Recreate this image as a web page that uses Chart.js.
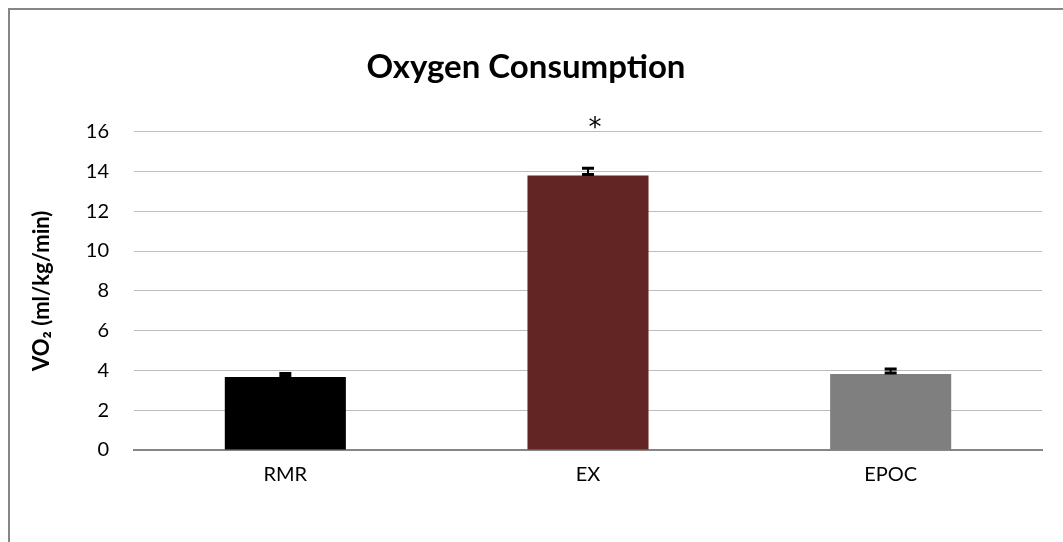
<!DOCTYPE html>
<html>
<head>
<meta charset="utf-8">
<script src="https://cdn.jsdelivr.net/npm/chart.js@4.4.1/dist/chart.umd.min.js"></script>
<style>
  html, body { margin: 0; padding: 0; background: #fff; overflow: hidden; }
  #frame {
    position: absolute; left: 8px; top: 8px;
    width: 1053px; height: 532px;
    border-left: 2px solid #868686; border-top: 2px solid #868686;
  }
  #chart { display: block; }
</style>
</head>
<body>
<div id="frame"><canvas id="chart" width="1053" height="532"></canvas></div>
<script>
// dados
const categories = ['RMR', 'EX', 'EPOC'];
const vo2Mean = [3.67, 13.79, 3.82];
const vo2Err = [0.18, 0.37, 0.25];
const significance = ['', '*', ''];
const barColors = ['#000000', '#632523', '#7f7f7f'];
const yTicks = [0, 2, 4, 6, 8, 10, 12, 14, 16];

const FONT = "Lato, 'Open Sans', sans-serif";

// barras de erro (só para cima) e asterisco de significância
const errorBars = {
    id: 'errorBars',
    afterDatasetsDraw(chart) {
        const { ctx, scales: { y } } = chart;
        const meta = chart.getDatasetMeta(0);
        ctx.save();
        meta.data.forEach((bar, i) => {
            const cx = bar.x;
            const yTop = y.getPixelForValue(vo2Mean[i] + vo2Err[i]);
            const yBase = y.getPixelForValue(vo2Mean[i]);
            ctx.strokeStyle = '#000';
            ctx.lineWidth = 2;
            ctx.beginPath();
            ctx.moveTo(cx, yBase); ctx.lineTo(cx, yTop);
            ctx.stroke();
            ctx.lineWidth = 3;
            ctx.beginPath();
            ctx.moveTo(cx - 6, yTop); ctx.lineTo(cx + 6, yTop);
            ctx.moveTo(cx - 6, yBase - 1); ctx.lineTo(cx + 6, yBase - 1);
            ctx.stroke();

            if (significance[i]) {
                ctx.fillStyle = '#000';
                ctx.font = "26px 'DejaVu Sans', sans-serif";
                ctx.textAlign = 'center';
                ctx.textBaseline = 'middle';
                ctx.fillText(significance[i], cx + 7, y.getPixelForValue(16.1));
            }
        });
        ctx.restore();
    }
};

new Chart(document.getElementById('chart'), {
    type: 'bar',
    data: {
        labels: categories,
        datasets: [{
            data: vo2Mean,
            backgroundColor: barColors,
            borderWidth: 0,
            barPercentage: 0.4,
            categoryPercentage: 1
        }]
    },
    options: {
        responsive: false,
        animation: false,
        layout: { padding: { left: 0, right: 21, top: 0, bottom: 0 } },
        plugins: {
            legend: { display: false },
            tooltip: { enabled: false },
            title: {
                display: true,
                text: 'Oxygen Consumption',
                color: '#000',
                font: { family: FONT, size: 33, weight: 'bold' },
                padding: { top: 38, bottom: 44 }
            }
        },
        scales: {
            x: {
                grid: { display: false, drawTicks: false },
                border: { display: true, color: '#868686', width: 2 },
                ticks: { color: '#000', font: { family: FONT, size: 20 }, padding: 13 },
                afterFit(scale) { scale.height = 92; }
            },
            y: {
                min: 0,
                max: 16,
                afterBuildTicks(scale) { scale.ticks = yTicks.map(v => ({ value: v })); },
                grid: { color: '#bdbdbd', lineWidth: 1, drawTicks: false },
                border: { display: false },
                ticks: { color: '#000', font: { family: FONT, size: 20 }, padding: 25 },
                title: {
                    display: true,
                    text: 'VO\u2082 (ml/kg/min)',
                    color: '#000',
                    font: { family: FONT, size: 22, weight: 'bold' },
                    padding: { top: 19, bottom: 0 }
                },
                afterFit(scale) { scale.width = 124; }
            }
        }
    },
    plugins: [errorBars]
});
</script>
</body>
</html>
